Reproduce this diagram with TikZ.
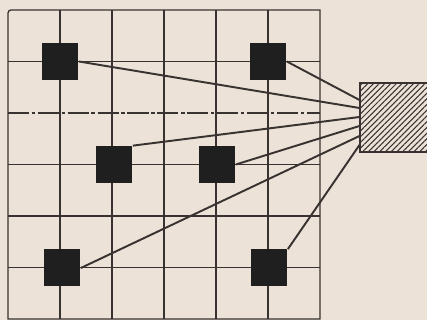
\documentclass[tikz,border=0pt]{standalone}
\usepackage{tikz}
\usetikzlibrary{
  calc,%
  patterns.meta,%
  positioning
}
\definecolor{paper}{RGB}{236,226,216}
\definecolor{ink}{RGB}{56,50,48}
\tikzset{>=latex}
\tikzset{
  block/.style={rectangle, fill=black!88, minimum size=0.74cm, inner sep=0pt},
  load/.style={rectangle, draw=ink, line width=0.8pt,
    pattern={Lines[angle=45, distance=2.3pt, line width=0.6pt]}, pattern color=ink,
    minimum width=1.7cm, minimum height=1.38cm, inner sep=0pt},
  wire/.style={ink, line width=1.1pt},
  gridline/.style={ink, line width=0.75pt}
}

\begin{document}
\begin{tikzpicture}[x=0.02cm, y=-0.02cm]
  \fill[paper] (0,0) rectangle (427,320);
  \clip (0,0) rectangle (427,320);
  % grid
  \foreach \x in {60,112,164,216,268}
    \draw[gridline] (\x,10) -- (\x,319);
  \foreach \y in {61.5,164.5,216,267.5}
    \draw[gridline] (8,\y) -- (320,\y);
  % center line
  \draw[gridline, dash pattern=on 12pt off 1.5pt on 2pt off 1.5pt] (8,113) -- (320,113);
  \draw[gridline] (8,319) -- (8,13) arc[start angle=180, end angle=270, radius=3]
    -- (320,10) -- (320,319) -- cycle;
  % blocks
  \node[block] (b1) at (60,61.5) {};
  \node[block] (b2) at (268,61.5) {};
  \node[block] (b3) at (114,164.5) {};
  \node[block] (b4) at (217,164.5) {};
  \node[block] (b5) at (62,268) {};
  \node[block] (b6) at (269,268) {};
  \node[load] (load) at (402.5,117.5) {};
  % wires to the load
  \foreach \b/\a/\d in {b2/east/-17.5, b1/east/-9.5, b3/north east/-0.5,
                        b4/east/8.5, b5/east/18.5, b6/north east/27.5}
    \draw[wire] (\b.\a) -- ($(load.west)+(0,\d)$);
\end{tikzpicture}
\end{document}
